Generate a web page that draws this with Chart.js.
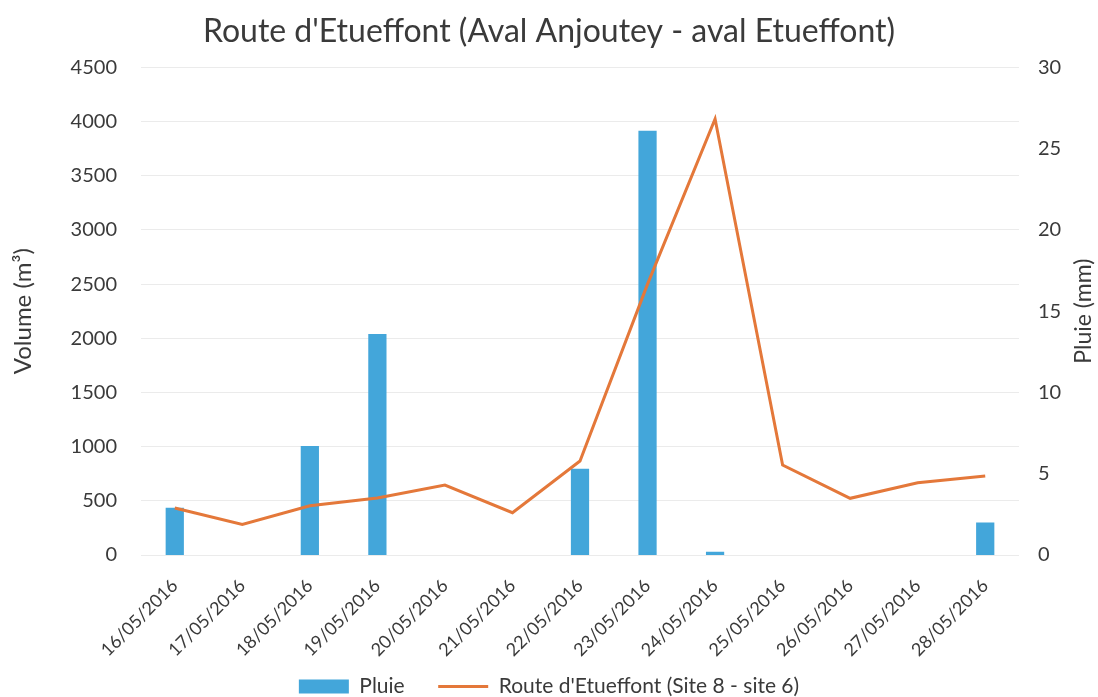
<!DOCTYPE html>
<html>
<head>
<meta charset="utf-8">
<script src="https://cdn.jsdelivr.net/npm/chart.js@4"></script>
<style>
  html, body { margin: 0; padding: 0; background: #fff; }
  #wrap { width: 1098px; height: 697px; }
</style>
</head>
<body>
<div id="wrap"><canvas id="chart" width="1098" height="697"></canvas></div>
<script>
const dates = ['16/05/2016', '17/05/2016', '18/05/2016', '19/05/2016', '20/05/2016', '21/05/2016', '22/05/2016',
    '23/05/2016', '24/05/2016', '25/05/2016', '26/05/2016', '27/05/2016', '28/05/2016'];
const pluie = [2.9, null, 6.7, 13.6, null, null, 5.3, 26.1, 0.2, null, null, null, 2.0];
const volume = [434, 283, 455, 526, 645, 390, 867, 2500, 4025, 830, 523, 667, 729];

const FONT = 'Lato, "Open Sans", sans-serif';
const TXT = '#3a3a3a';

Chart.defaults.font.family = FONT;
Chart.defaults.color = TXT;

// titre de l'axe de droite, lu de bas en haut comme dans Excel
const rightTitle = {
    id: 'rightTitle',
    afterDraw(chart) {
        const { ctx, chartArea } = chart;
        ctx.save();
        ctx.translate(1084, (chartArea.top + chartArea.bottom) / 2);
        ctx.rotate(-Math.PI / 2);
        ctx.font = '23px ' + FONT;
        ctx.fillStyle = TXT;
        ctx.textAlign = 'center';
        ctx.textBaseline = 'middle';
        ctx.fillText('Pluie (mm)', 0, 0);
        ctx.restore();
    }
};

const ctx = document.getElementById('chart').getContext('2d');

new Chart(ctx, {
    data: {
        labels: dates,
        datasets: [{
            type: 'bar',
            label: 'Pluie',
            data: pluie,
            yAxisID: 'y1',
            backgroundColor: '#43a6da',
            barPercentage: 0.27,
            categoryPercentage: 1,
            pointStyle: 'rect',
            order: 1
        }, {
            type: 'line',
            label: "Route d'Etueffont (Site 8 - site 6)",
            data: volume,
            yAxisID: 'y',
            borderColor: '#e4783a',
            backgroundColor: '#e4783a',
            borderWidth: 3,
            pointRadius: 0,
            pointStyle: 'line',
            tension: 0,
            order: 0
        }]
    },
    options: {
        responsive: false,
        animation: false,
        layout: { padding: 0 },
        plugins: {
            title: {
                display: true,
                text: "Route d'Etueffont (Aval Anjoutey - aval Etueffont)",
                font: { size: 32, weight: 'normal' },
                color: TXT,
                padding: { top: 12, bottom: 17 }
            },
            legend: {
                position: 'bottom',
                maxHeight: 23,
                labels: {
                    usePointStyle: true,
                    pointStyleWidth: 50,
                    boxHeight: 14,
                    padding: 2,
                    font: { size: 21 },
                    color: TXT,
                    sort: (a, b) => a.datasetIndex - b.datasetIndex,
                    generateLabels(chart) {
                        const items = Chart.defaults.plugins.legend.labels.generateLabels(chart);
                        items.forEach(it => { if (it.datasetIndex === 0) it.text += '\u2003\u2003'; });
                        return items;
                    }
                }
            },
            tooltip: { enabled: false }
        },
        scales: {
            x: {
                grid: { display: false },
                border: { display: false },
                ticks: {
                    minRotation: 45,
                    maxRotation: 45,
                    padding: 12,
                    font: { size: 18 },
                    color: TXT
                },
                afterFit(scale) { scale.height = 119; }
            },
            y: {
                position: 'left',
                min: 0,
                max: 4500,
                ticks: { stepSize: 500, padding: 24, font: { size: 20 }, color: TXT, callback: v => String(v) },
                grid: { color: '#ebebeb', drawTicks: false },
                border: { display: false },
                title: {
                    display: true,
                    text: 'Volume (m³)',
                    font: { size: 24 },
                    color: TXT,
                    padding: { top: 9, bottom: 0 }
                },
                afterFit(scale) { scale.width = 141; }
            },
            y1: {
                position: 'right',
                min: 0,
                max: 30,
                ticks: { stepSize: 5, padding: 19, font: { size: 20 }, color: TXT, callback: v => String(v) },
                grid: { display: false, drawTicks: false },
                border: { display: false },
                afterFit(scale) { scale.width = 79; }
            }
        }
    },
    plugins: [rightTitle]
});
</script>
</body>
</html>
